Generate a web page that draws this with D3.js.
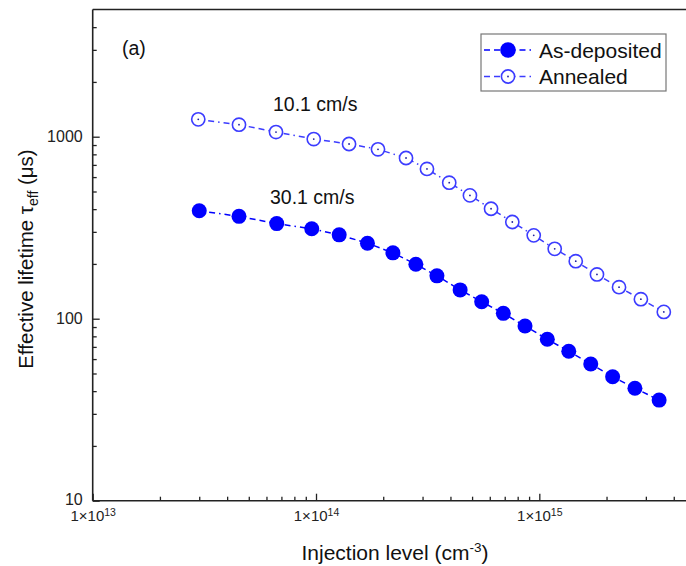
<!DOCTYPE html>
<html>
<head>
<meta charset="utf-8">
<script src="https://cdn.jsdelivr.net/npm/d3@7"></script>
<style>
  html, body { margin: 0; padding: 0; background: #fff; }
  svg { display: block; font-family: "Liberation Sans", Arial, sans-serif; }
</style>
</head>
<body>
<svg id="chart" width="686" height="566"></svg>
<script>
// ---- Data ----
const injAsDep = [3.00e13, 4.52e13, 6.67e13, 9.57e13, 1.27e14, 1.70e14, 2.21e14, 2.80e14, 3.48e14, 4.42e14,
                  5.52e14, 6.90e14, 8.63e14, 1.086e15, 1.355e15, 1.70e15, 2.13e15, 2.68e15, 3.44e15];
const tauAsDep = [392, 365, 333, 312, 289, 260, 230, 199, 172, 144,
                  124, 107, 91.2, 77.1, 66.2, 56.4, 48.0, 41.5, 35.7];
const injAnn   = [2.97e13, 4.52e13, 6.62e13, 9.77e13, 1.406e14, 1.895e14, 2.53e14, 3.14e14, 3.95e14, 4.89e14,
                  6.08e14, 7.57e14, 9.44e14, 1.172e15, 1.456e15, 1.812e15, 2.275e15, 2.85e15, 3.61e15];
const tauAnn   = [1246, 1164, 1061, 971, 912, 853, 764, 665, 559, 476,
                  402, 340, 287, 242, 207, 175, 149, 128, 109];
const seriesNames = ["As-deposited", "Annealed"];
const xTickExps = [13, 14, 15];
const yTickLabels = ["10", "100", "1000"];
const annotations = ["10.1 cm/s", "30.1 cm/s"];

// ---- Layout ----
const svg = d3.select("#chart");
const x = d3.scaleLog().domain([1e13, 5e15]).range([92.7, 695.4]);
const y = d3.scaleLog().domain([10, 5000]).range([500.7, 9.5]);
const blue = "#0000ff";
const openBlue = "#3c3cff";
const axisColor = "#222";

// minor tick positions
const yMinor = [], xMinor = [];
[10, 100, 1000].forEach(d => { for (let k = 2; k <= 9; k++) if (d * k < 5000) yMinor.push(d * k); });
[1e13, 1e14, 1e15].forEach(d => { for (let k = 2; k <= 9; k++) if (d * k < 5e15) xMinor.push(d * k); });

// frame: top line
svg.append("line").attr("x1", x(1e13)).attr("x2", x(5e15)).attr("y1", y(5000)).attr("y2", y(5000))
  .attr("stroke", axisColor).attr("stroke-width", 1.6);

// Y axis
const yAxisMinor = svg.append("g").attr("transform", `translate(${x(1e13)},0)`)
  .call(d3.axisLeft(y).tickValues(yMinor).tickSize(-4).tickFormat(""));
const yAxis = svg.append("g").attr("transform", `translate(${x(1e13)},0)`)
  .call(d3.axisLeft(y).tickValues(yTickLabels.map(Number)).tickSize(-7).tickPadding(10)
        .tickFormat((d, i) => yTickLabels[i]));
// X axis
const xAxisMinor = svg.append("g").attr("transform", `translate(0,${y(10)})`)
  .call(d3.axisBottom(x).tickValues(xMinor).tickSize(-4).tickFormat(""));
const xAxis = svg.append("g").attr("transform", `translate(0,${y(10)})`)
  .call(d3.axisBottom(x).tickValues(xTickExps.map(e => Math.pow(10, e))).tickSize(-7).tickPadding(10).tickFormat(""));

[yAxisMinor, yAxis, xAxisMinor, xAxis].forEach(g => {
  g.select(".domain").attr("stroke", axisColor).attr("stroke-width", 1.6);
  g.selectAll(".tick line").attr("stroke", axisColor).attr("stroke-width", 1.3);
});
yAxisMinor.select(".domain").remove();
xAxisMinor.select(".domain").remove();
yAxis.select(".domain").attr("d", `M0,${y(10)}V${y(5000)}`);
xAxis.select(".domain").attr("d", `M${x(1e13)},0H${x(5e15)}`);

yAxis.selectAll(".tick text").attr("font-size", 16).attr("fill", "#222")
  .attr("font-family", "Liberation Sans, Arial, sans-serif");
// lift the bottom "10" label a hair so it clears the x label
yAxis.selectAll(".tick text").filter(d => d === 10).attr("dy", "0.22em");

xAxis.selectAll(".tick text").each(function(d, i) {
  const t = d3.select(this).attr("font-size", 15).attr("fill", "#222")
    .attr("font-family", "Liberation Sans, Arial, sans-serif").attr("dy", "0.71em");
  t.text(null);
  t.append("tspan").text("1×10");
  t.append("tspan").attr("font-size", 10.5).attr("dy", "-0.5em").text(String(xTickExps[i]));
});

// ---- Series ----
const dataAsDep = injAsDep.map((v, i) => ({x: v, y: tauAsDep[i]}));
const dataAnn = injAnn.map((v, i) => ({x: v, y: tauAnn[i]}));
const line = d3.line().x(d => x(d.x)).y(d => y(d.y));
const dash = "6,4,6,4,1.5,4";

svg.append("path").datum(dataAnn).attr("d", line).attr("fill", "none")
  .attr("stroke", openBlue).attr("stroke-width", 1.5).attr("stroke-dasharray", dash);
svg.append("path").datum(dataAsDep).attr("d", line).attr("fill", "none")
  .attr("stroke", blue).attr("stroke-width", 1.5).attr("stroke-dasharray", dash);

function openMarker(g, cx, cy) {
  g.append("circle").attr("cx", cx).attr("cy", cy).attr("r", 6.6)
    .attr("fill", "#fff").attr("stroke", openBlue).attr("stroke-width", 1.6);
  g.append("circle").attr("cx", cx).attr("cy", cy).attr("r", 0.9).attr("fill", "#2020a0");
}
const gAnn = svg.append("g");
dataAnn.forEach(d => openMarker(gAnn, x(d.x), y(d.y)));
svg.append("g").selectAll("circle").data(dataAsDep).join("circle")
  .attr("cx", d => x(d.x)).attr("cy", d => y(d.y)).attr("r", 7.5).attr("fill", blue);

// ---- Annotations ----
svg.append("text").attr("x", 122).attr("y", 55).attr("font-size", 19.5).attr("fill", "#111").text("(a)");
svg.append("text").attr("x", 273).attr("y", 111).attr("font-size", 19.5).attr("fill", "#111").text(annotations[0]);
svg.append("text").attr("x", 270).attr("y", 204).attr("font-size", 19.5).attr("fill", "#111").text(annotations[1]);

// ---- Legend ----
const lg = svg.append("g");
lg.append("rect").attr("x", 481).attr("y", 34).attr("width", 185).attr("height", 57)
  .attr("fill", "#fff").attr("stroke", "#777").attr("stroke-width", 1.2);
const rows = [50, 76.5];
rows.forEach((ry, i) => {
  lg.append("line").attr("x1", 484).attr("x2", 533).attr("y1", ry).attr("y2", ry)
    .attr("stroke", i === 0 ? blue : openBlue).attr("stroke-width", 1.5).attr("stroke-dasharray", dash);
  if (i === 0) lg.append("circle").attr("cx", 508).attr("cy", ry).attr("r", 7.8).attr("fill", blue);
  else openMarker(lg, 508, ry);
  lg.append("text").attr("x", 539).attr("y", ry).attr("dy", "0.36em").attr("font-size", 21)
    .attr("fill", "#111").text(seriesNames[i]);
});

// ---- Axis titles ----
const xt = svg.append("text").attr("x", 395).attr("y", 560).attr("text-anchor", "middle")
  .attr("font-size", 21).attr("fill", "#111");
xt.append("tspan").text("Injection level (cm");
xt.append("tspan").attr("font-size", 13.5).attr("dy", "-0.6em").text("-3");
xt.append("tspan").attr("dy", "0.4em").text(")");

const yt = svg.append("text").attr("transform", "translate(33,259) rotate(-90)")
  .attr("text-anchor", "middle").attr("font-size", 20.5).attr("fill", "#111");
yt.append("tspan").text("Effective lifetime τ");
yt.append("tspan").attr("font-size", 14).attr("dy", "0.35em").text("eff");
yt.append("tspan").attr("dy", "-0.25em").text(" (μs)");
</script>
</body>
</html>
